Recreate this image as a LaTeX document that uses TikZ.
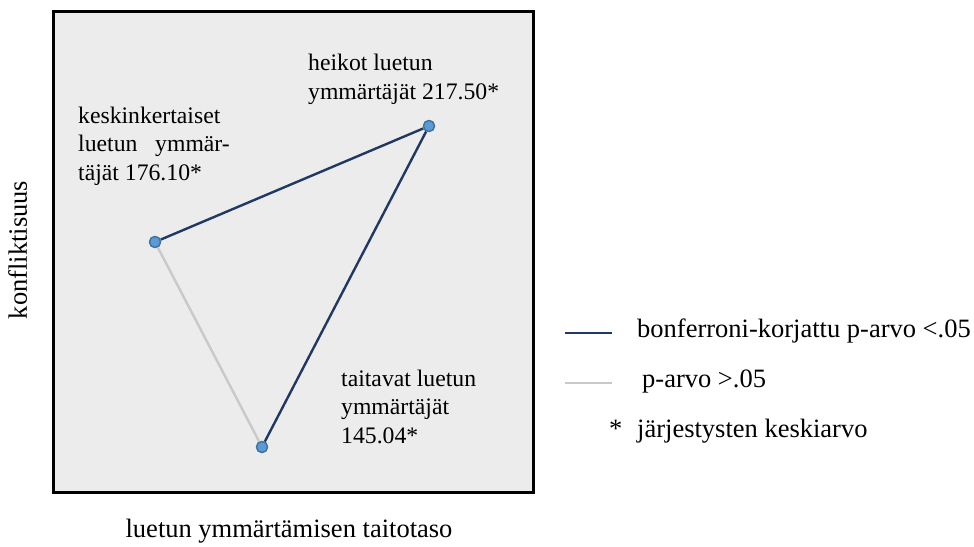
\documentclass[tikz,border=0pt]{standalone}
\usepackage{fontspec}
\setmainfont{Liberation Serif}
\usetikzlibrary{positioning}
\usetikzlibrary{calc}

\definecolor{sigblue}{HTML}{1F3864}
\definecolor{nsgray}{HTML}{C9C9C9}
\definecolor{dotfill}{HTML}{5B9BD5}
\definecolor{dotline}{HTML}{41719C}
\definecolor{panel}{HTML}{ECECEC}

\begin{document}
\begin{tikzpicture}[
    x=1pt, y=-1pt,
    node distance=0.6cm and 0.6cm,
    every node/.style={font=\fontsize{23.7}{28.5}\selectfont, inner sep=0pt},
    axislabel/.style={font=\fontsize{26.5}{30}\selectfont},
    grouplabel/.style={anchor=base west, align=left},
    legendtext/.style={anchor=base west, font=\fontsize{26.5}{30}\selectfont},
    dot/.style={circle, draw=dotline, fill=dotfill, line width=1.3pt, minimum size=11pt},
    sig/.style={draw=sigblue, line width=2.4pt},
    nonsig/.style={draw=nsgray, line width=2.4pt}
]
\useasboundingbox (0,0) rectangle (974,546);
\node[draw=black, line width=3pt, fill=panel, anchor=north west, minimum width=480pt, minimum height=481pt] (frame) at (52,10) {};

% ryhmien pisteet
\node[dot] (middle) at (155,242) {};
\node[dot] (weak) at (429,126) {};
\node[dot] (skilled) at (262,447) {};
\draw[sig] (middle) -- (weak);
\draw[sig] (weak) -- (skilled);
\draw[nonsig] (middle) -- (skilled);
\node[dot] at (middle) {};
\node[dot] at (weak) {};
\node[dot] at (skilled) {};

% tekstin kanta = viimeisen rivin peruslinja
\node[grouplabel] (weaktext) at (308,99) {heikot luetun\\ymmärtäjät 217.50*};
\node[grouplabel] (middletext) at (78,180) {keskinkertaiset\\luetun\hspace{0.75em}ymmär-\\täjät 176.10*};
\node[grouplabel] (skilledtext) at (341,443) {taitavat luetun\\ymmärtäjät\\145.04*};

% akselit
\node[axislabel, rotate=90, anchor=base] (ylabel) at (27,250) {konfliktisuus};
\node[axislabel, anchor=base] (xlabel) at (289,537) {luetun ymmärtämisen taitotaso};

% selite
\coordinate (siga) at (565,333);
\coordinate (sigb) at (612,333);
\coordinate (nsa) at (565,383);
\coordinate (nsb) at (612,383);
\draw[sig] (siga) -- (sigb);
\draw[nonsig] (nsa) -- (nsb);
\node[legendtext] (sigtext) at (637,337) {bonferroni-korjattu p-arvo <.05};
\node[legendtext] (nstext) at (642,387) {p-arvo >.05};
\node[legendtext] (startext) at (609,437) {*};
\node[legendtext] (meantext) at (637,437) {järjestysten keskiarvo};
\end{tikzpicture}
\end{document}
